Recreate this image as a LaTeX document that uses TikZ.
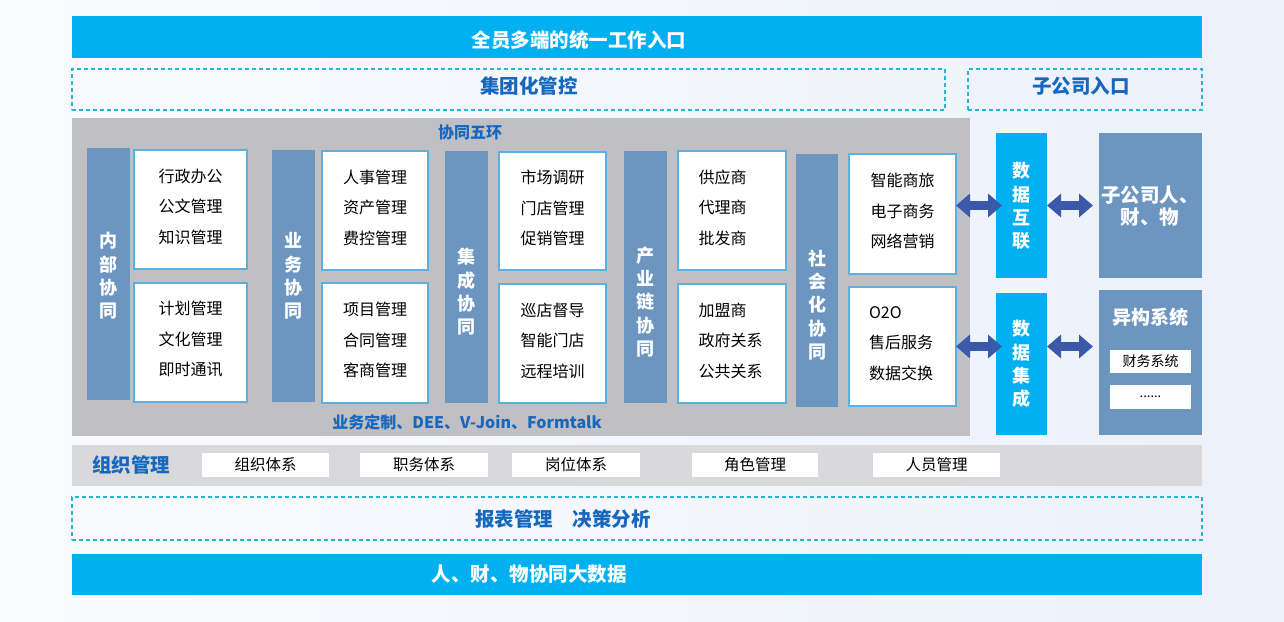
\documentclass[tikz,border=0pt]{standalone}
\usepackage{fontspec}
\setmainfont{Noto Sans CJK SC}
\usetikzlibrary{arrows.meta,calc}
\definecolor{cyanbar}{RGB}{0,176,240}
\definecolor{steel}{RGB}{108,150,192}
\definecolor{dgray}{RGB}{192,191,195}
\definecolor{lgray}{RGB}{217,217,220}
\definecolor{tblue}{RGB}{22,104,190}
\definecolor{dashc}{RGB}{40,180,212}
\definecolor{cellb}{RGB}{90,176,222}
\definecolor{arrowc}{RGB}{60,88,168}
\definecolor{bgr}{RGB}{236,241,250}
\definecolor{bgl}{RGB}{250,251,254}
\begin{document}
\begin{tikzpicture}[x=1pt,y=-1pt,
  blk/.style={anchor=north west, inner sep=0pt, outer sep=0pt},
  bar/.style={blk, fill=cyanbar},
  dbox/.style={blk, draw=dashc, line width=1.1pt, dash pattern=on 4pt off 3pt},
  vbar/.style={blk, fill=steel},
  cellbox/.style={blk, fill=white, draw=cellb, line width=1.1pt},
  celltxt/.style={align=center, yshift=3pt, font=\fontsize{16}{30.5}\selectfont},
  cell/.style={cellbox, label={[celltxt]center:{#1}}},
  lcell/.style={cellbox, label={[celltxt, align=left, text width=67pt]center:{#1}}},
  vtext/.style={align=center, text=white, font=\bfseries\fontsize{18}{23.3}\selectfont},
  wtitle/.style={text=white, font=\bfseries\fontsize{19.5}{22}\selectfont},
  btitle/.style={text=tblue, font=\bfseries\fontsize{19.5}{22}\selectfont},
  stitle/.style={text=tblue, font=\bfseries\fontsize{16}{20}\selectfont},
  ocell/.style={blk, fill=white, font=\fontsize{15.5}{18}\selectfont},
  fat/.style={line width=9pt, draw=arrowc,
    {Triangle[length=14pt,width=23pt]}-{Triangle[length=14pt,width=23pt]}}]
\useasboundingbox (0,0) rectangle (1284,621);
\shade[left color=bgl, right color=bgr] (0,0) rectangle (1284,621);

% top
\node[bar, minimum width=1130, minimum height=42] (top) at (72,16) {};
\node[wtitle] (toptxt) at (579,40) {全员多端的统一工作入口};
\node[dbox, minimum width=873, minimum height=41] (group) at (72,69) {};
\node[btitle] (grouptxt) at (529,86) {集团化管控};
\node[dbox, minimum width=234, minimum height=41] (subent) at (968,69) {};
\node[btitle] (subenttxt) at (1081,86) {子公司入口};

% big gray
\node[blk, fill=dgray, minimum width=898, minimum height=318] (gray) at (72,118) {};
\node[stitle] (five) at (470,132) {协同五环};
\node[stitle] (custom) at (467,422) {业务定制、DEE、V-Join、Formtalk};

% column 1
\node[vbar, minimum width=43, minimum height=252] (b1) at (87,148) {};
\node[vtext] (b1t) at (108.5,276) {内\\部\\协\\同};
\node[cell={行政办公\\公文管理\\知识管理}, minimum width=113, minimum height=119] (c11) at (134,150) {};
\node[cell={计划管理\\文化管理\\即时通讯}, minimum width=113, minimum height=119] (c12) at (134,283) {};
% column 2
\node[vbar, minimum width=43, minimum height=252] (b2) at (272,150) {};
\node[vtext] (b2t) at (293.5,276) {业\\务\\协\\同};
\node[cell={人事管理\\资产管理\\费控管理}, minimum width=106, minimum height=119] (c21) at (322,151) {};
\node[cell={项目管理\\合同管理\\客商管理}, minimum width=106, minimum height=120] (c22) at (322,283) {};
% column 3
\node[vbar, minimum width=43, minimum height=252] (b3) at (445,151) {};
\node[vtext] (b3t) at (466.5,292) {集\\成\\协\\同};
\node[cell={市场调研\\门店管理\\促销管理}, minimum width=107, minimum height=118] (c31) at (499,152) {};
\node[cell={巡店督导\\智能门店\\远程培训}, minimum width=107, minimum height=119] (c32) at (499,284) {};
% column 4
\node[vbar, minimum width=43, minimum height=252] (b4) at (624,151) {};
\node[vtext] (b4t) at (645.5,302) {产\\业\\链\\协\\同};
\node[lcell={供应商\\代理商\\批发商}, minimum width=108, minimum height=119] (c41) at (678,151) {};
\node[lcell={加盟商\\政府关系\\公共关系}, minimum width=108, minimum height=119] (c42) at (678,284) {};
% column 5
\node[vbar, minimum width=42, minimum height=253] (b5) at (796,154) {};
\node[vtext] (b5t) at (817,305) {社\\会\\化\\协\\同};
\node[cell={智能商旅\\电子商务\\网络营销}, minimum width=107, minimum height=120] (s1) at (849,154) {};
\node[lcell={O2O\\售后服务\\数据交换}, minimum width=107, minimum height=119] (s2) at (849,287) {};

% right side
\node[bar, minimum width=51, minimum height=145] (d1) at (996,133) {};
\node[vtext] (d1t) at (1021.5,206) {数\\据\\互\\联};
\node[bar, minimum width=51, minimum height=142] (d2) at (996,293) {};
\node[vtext] (d2t) at (1021.5,364) {数\\据\\集\\成};
\node[vbar, minimum width=103, minimum height=145] (sub) at (1099,133) {};
\node[vtext, font=\bfseries\fontsize{19.5}{22.5}\selectfont] (subt) at (1150,206) {子公司人、\\财、物};
\node[vbar, minimum width=103, minimum height=145] (het) at (1099,290) {};
\node[wtitle, font=\bfseries\fontsize{19}{22}\selectfont] (hett) at (1150,317) {异构系统};
\node[ocell, minimum width=81, minimum height=23, font=\fontsize{14}{16}\selectfont] (fin) at (1110,350) {财务系统};
\node[ocell, minimum width=81, minimum height=24, font=\fontsize{13}{16}\selectfont] (more) at (1110,385) {......};

\draw[fat, shorten >=-6pt] (s1.east |- d1.west) -- (d1.west);
\draw[fat, shorten >=6pt] (d1.east) -- (sub.west);
\draw[fat, shorten >=-6pt] (s2.east) -- (s2.east -| d2.west);
\draw[fat, shorten >=6pt] (s2.east -| d2.east) -- (s2.east -| het.west);

% org
\node[blk, fill=lgray, minimum width=1130, minimum height=41] (org) at (72,445) {};
\node[btitle] (orgt) at (131,465) {组织管理};
\node[ocell, minimum width=127, minimum height=24] (o1) at (202,453) {组织体系};
\node[ocell, minimum width=128, minimum height=24] (o2) at (360,453) {职务体系};
\node[ocell, minimum width=128, minimum height=24] (o3) at (512,453) {岗位体系};
\node[ocell, minimum width=126, minimum height=24] (o4) at (692,453) {角色管理};
\node[ocell, minimum width=127, minimum height=24] (o5) at (873,453) {人员管理};

% bottom
\node[dbox, minimum width=1130, minimum height=43] (rep) at (72,497) {};
\node[btitle] (rept) at (563,519) {报表管理\hspace{20pt}决策分析};
\node[bar, minimum width=1130, minimum height=41] (bot) at (72,554) {};
\node[wtitle] (bott) at (529,574) {人、财、物协同大数据};
\end{tikzpicture}
\end{document}
